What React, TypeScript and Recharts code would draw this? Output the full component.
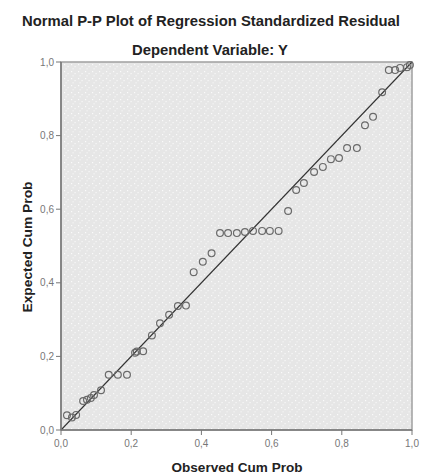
import {
  ScatterChart,
  Scatter,
  XAxis,
  YAxis,
  ReferenceArea,
  ReferenceLine,
} from "recharts";

// observed cumulative probability of each residual
const observed = [
  0.017, 0.031, 0.043, 0.063, 0.074, 0.085, 0.094, 0.114, 0.136, 0.162, 0.188,
  0.211, 0.216, 0.234, 0.259, 0.282, 0.308, 0.333, 0.356, 0.378, 0.404, 0.429,
  0.453, 0.476, 0.501, 0.524, 0.547, 0.573, 0.595, 0.62, 0.647, 0.67, 0.692,
  0.721, 0.746, 0.769, 0.792, 0.815, 0.843, 0.866, 0.889, 0.915, 0.934, 0.952,
  0.966, 0.986, 0.994,
];

// expected cumulative probability under normality
const expected = [
  0.04, 0.034, 0.041, 0.079, 0.082, 0.087, 0.095, 0.108, 0.15, 0.15, 0.15,
  0.21, 0.213, 0.214, 0.257, 0.29, 0.313, 0.337, 0.338, 0.429, 0.457, 0.48,
  0.535, 0.535, 0.535, 0.538, 0.541, 0.541, 0.541, 0.541, 0.595, 0.652, 0.671,
  0.701, 0.715, 0.736, 0.739, 0.766, 0.766, 0.828, 0.851, 0.918, 0.978, 0.978,
  0.984, 0.986, 0.992,
];

const ticks = [0, 0.2, 0.4, 0.6, 0.8, 1];

const points = observed.map((x, i) => ({ x, y: expected[i] }));

const fmt = (v: number) => v.toFixed(1).replace(".", ",");

const axisTick = { fill: "#777", fontSize: 10, fontFamily: "Liberation Sans, Arial, sans-serif" };

function Ring(props: any) {
  const { cx, cy } = props;
  if (cx == null || cy == null) return null;
  return <circle cx={cx} cy={cy} r={3.4} fill="none" stroke="#6a6a6a" strokeWidth={1.2} />;
}

export default function App() {
  return (
    <div style={{ position: "absolute", left: 0, top: 0, width: 421, height: 475, background: "#fff" }}>
      <ScatterChart width={421} height={475} margin={{ top: 62, right: 9, bottom: 15, left: 31 }}>
        <defs>
          <pattern id="speckle" width="7" height="7" patternUnits="userSpaceOnUse">
            <rect width="7" height="7" fill="#e6e6e6" />
            <rect x="1" y="1" width="1.2" height="1.2" fill="#fff" opacity={0.8} />
            <rect x="4.5" y="3" width="1.2" height="1.2" fill="#fff" opacity={0.7} />
            <rect x="2.5" y="5.2" width="1.2" height="1.2" fill="#fff" opacity={0.6} />
          </pattern>
        </defs>
        <XAxis
          type="number"
          dataKey="x"
          domain={[0, 1]}
          ticks={ticks}
          tickFormatter={fmt}
          height={30}
          tickSize={5}
          tickMargin={5}
          tick={axisTick}
          stroke="#777"
          axisLine={{ stroke: "#777", strokeWidth: 1.5 }}
        />
        <YAxis
          type="number"
          dataKey="y"
          domain={[0, 1]}
          ticks={ticks}
          tickFormatter={fmt}
          width={30}
          tickSize={5}
          tickMargin={2}
          tick={axisTick}
          stroke="#777"
          axisLine={{ stroke: "#777", strokeWidth: 1.5 }}
        />
        <ReferenceArea
          x1={0}
          x2={1}
          y1={0}
          y2={1}
          fill="url(#speckle)"
          fillOpacity={1}
          stroke="#a0a0a0"
          strokeWidth={1.5}
        />
        <ReferenceLine
          segment={[
            { x: 0, y: 0 },
            { x: 1, y: 1 },
          ]}
          stroke="#333"
          strokeWidth={1.1}
        />
        <Scatter data={points} shape={<Ring />} isAnimationActive={false} />
      </ScatterChart>
      <svg
        width={421}
        height={475}
        style={{ position: "absolute", left: 0, top: 0, pointerEvents: "none" }}
        fontFamily="Liberation Sans, Arial, sans-serif"
        fontWeight="bold"
        fill="#222"
      >
        <text x={211} y={26} fontSize={14} textAnchor="middle" textLength={378} lengthAdjust="spacingAndGlyphs">
          Normal P-P Plot of Regression Standardized Residual
        </text>
        <text x={210} y={55} fontSize={14} textAnchor="middle" textLength={156} lengthAdjust="spacingAndGlyphs">
          Dependent Variable: Y
        </text>
        <text x={237} y={472} fontSize={13.5} textAnchor="middle" textLength={131} lengthAdjust="spacingAndGlyphs">
          Observed Cum Prob
        </text>
        <text
          x={32}
          y={247}
          fontSize={13.5}
          textAnchor="middle"
          textLength={131}
          lengthAdjust="spacingAndGlyphs"
          transform="rotate(-90 32 247)"
        >
          Expected Cum Prob
        </text>
      </svg>
    </div>
  );
}
